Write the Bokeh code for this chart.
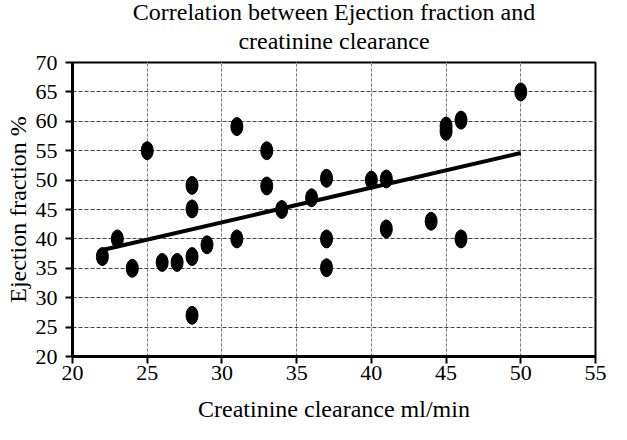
from bokeh.plotting import figure
from bokeh.models import FixedTicker, Title, Range1d, ColumnDataSource, LinearAxis, Grid
from bokeh.embed import file_html
from bokeh.resources import INLINE

# Data
clearance = [22, 23, 24, 25, 26, 27, 28, 28, 28, 28, 29, 31, 31, 33, 33, 34, 36,
             37, 37, 37, 40, 41, 41, 44, 45, 45, 46, 46, 50]
ejection = [37, 40, 35, 55, 36, 36, 37, 27, 45.1, 49.1, 39, 59.1, 40, 55, 49, 45, 47,
            50.3, 40, 35.1, 50, 50.2, 41.7, 43, 58.3, 59.2, 60.2, 40, 65]
trend_x = [22, 50]
trend_y = [38.1, 54.6]
x_ticks = [20, 25, 30, 35, 40, 45, 50, 55]
y_ticks = [20, 25, 30, 35, 40, 45, 50, 55, 60, 65, 70]
title_lines = ["Correlation between Ejection fraction and", "creatinine clearance"]

FONT = "'Liberation Serif'"

x_min, x_max = x_ticks[0], x_ticks[-1]
y_min, y_max = y_ticks[0], y_ticks[-1]

p = figure(width=611, height=424, output_backend="svg", toolbar_location=None,
           x_range=Range1d(x_min, x_max), y_range=Range1d(y_min, y_max),
           x_axis_location=None, y_axis_location=None,
           min_border_left=72, min_border_right=16, min_border_top=62, min_border_bottom=67)

p.add_layout(Title(text=title_lines[1], align="center", text_font=FONT,
                   text_font_size="24px", text_font_style="normal", text_color="black",
                   offset=0, standoff=17), "above")
p.add_layout(Title(text=title_lines[0], align="center", text_font=FONT,
                   text_font_size="24px", text_font_style="normal", text_color="black",
                   standoff=-14), "above")

axis_style = dict(
    axis_line_width=3, axis_line_color="black",
    major_tick_line_width=2, major_tick_out=7, major_tick_in=0,
    minor_tick_line_color=None,
    major_label_text_font=FONT, major_label_text_font_size="22px",
    major_label_text_font_style="normal", major_label_text_color="black",
    axis_label_text_font=FONT, axis_label_text_font_size="24px",
    axis_label_text_font_style="normal", axis_label_text_color="black",
)
xaxis = LinearAxis(ticker=FixedTicker(ticks=x_ticks), axis_label="Creatinine clearance ml/min",
                   major_label_standoff=2, axis_label_standoff=13, **axis_style)
yaxis = LinearAxis(ticker=FixedTicker(ticks=y_ticks), axis_label="Ejection fraction %",
                   major_label_standoff=8, axis_label_standoff=2, **axis_style)
p.add_layout(xaxis, "below")
p.add_layout(yaxis, "left")

p.add_layout(Grid(dimension=0, ticker=FixedTicker(ticks=x_ticks), grid_line_color="#777777",
                  grid_line_dash="3 2", grid_line_width=1))
p.add_layout(Grid(dimension=1, ticker=FixedTicker(ticks=y_ticks), grid_line_color="#444444",
                  grid_line_dash="4 2", grid_line_width=1))

src = ColumnDataSource(dict(x=clearance, y=ejection))
p.ellipse(x="x", y="y", width=12, height=18, width_units="screen", height_units="screen",
          source=src, fill_color="black", line_color="black")
p.line(trend_x, trend_y, line_color="black", line_width=4)

p.outline_line_color = "black"
p.outline_line_width = 2
p.outline_line_alpha = 1
p.background_fill_color = "white"
p.border_fill_color = "white"

open("out.html", "w").write(file_html(p, INLINE))
